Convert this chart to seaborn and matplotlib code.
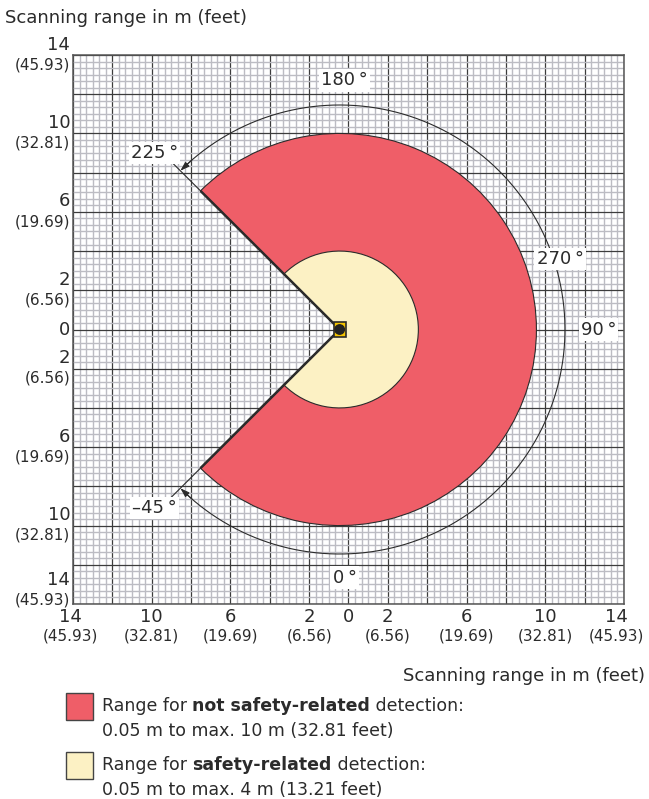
import numpy as np
import seaborn as sns
import matplotlib.pyplot as plt
from matplotlib.patches import Wedge, Rectangle, Circle
from matplotlib.transforms import blended_transform_factory

# detection fields (m), device angles: 0 deg points down, 90 deg points right
range_max = [10, 4]
range_colors = ['#ef5e68', '#fcf1c4']
scan_start = -45
scan_end = 225
sensor_x = -0.45

# axis ticks in m and the feet shown below them
tick_m = [-14, -10, -6, -2, 0, 2, 6, 10, 14]
tick_ft = ['45.93', '32.81', '19.69', '6.56', '', '6.56', '19.69', '32.81', '45.93']

angle_labels = ['180°', '270°', '90°', '0°', '225°', '–45°']

legend_lines = [
    [('Range for ', 'normal'), ('not safety-related', 'bold'), (' detection:', 'normal')],
    [('0.05 m to max. 10 m (32.81 feet)', 'normal')],
    [('Range for ', 'normal'), ('safety-related', 'bold'), (' detection:', 'normal')],
    [('0.05 m to max. 4 m (13.21 feet)', 'normal')],
]

sns.set_style('white')
plt.rcParams['font.family'] = ['DejaVu Sans']
ink = '#2b2b2b'

W, H = 649, 799
fig = plt.figure(figsize=(W / 100, H / 100), dpi=100)
ax = fig.add_axes([73 / W, 1 - 604 / H, 551 / W, 549 / H])
ax.set_xlim(-14, 14)
ax.set_ylim(-14, 14)

# graph paper
minor = np.arange(-14, 14.001, 1 / 3)
major = np.arange(-14, 14.001, 2)
ax.set_xticks(major)
ax.set_yticks(major)
ax.set_xticks(minor, minor=True)
ax.set_yticks(minor, minor=True)
ax.set_xticklabels([])
ax.set_yticklabels([])
ax.tick_params(which='both', length=0)
ax.grid(which='minor', color='#bcbcc3', lw=1.0)
ax.grid(which='major', color='#3c3c3c', lw=0.9)
ax.set_axisbelow(True)
for s in ax.spines.values():
    s.set_color('#555555')
    s.set_linewidth(1.1)

# detection fields
t1, t2 = scan_start - 90, scan_end - 90
for r, c in zip(range_max, range_colors):
    ax.add_patch(Wedge((sensor_x, 0), r, t1, t2, facecolor=c, edgecolor=ink, lw=0.8, zorder=3))
for a in (t1, t2):
    rad = np.deg2rad(a)
    ax.plot([sensor_x, sensor_x + range_max[0] * np.cos(rad)], [0, range_max[0] * np.sin(rad)],
            color=ink, lw=1.8, zorder=4, solid_capstyle='butt')
    # extension line for the dimension arc
    ax.plot([sensor_x + range_max[0] * np.cos(rad), sensor_x + 12.3 * np.cos(rad)],
            [range_max[0] * np.sin(rad), 12.3 * np.sin(rad)], color=ink, lw=0.8, zorder=4)

# dimension arc with arrows
ra = 11.45
th = np.deg2rad(np.linspace(t1 + 1.5, t2 - 1.5, 300))
sns.lineplot(x=sensor_x + ra * np.cos(th), y=ra * np.sin(th), sort=False, estimator=None,
             ax=ax, color=ink, lw=0.8, zorder=4)
for a, b in ((t1, t1 + 4), (t2, t2 - 4)):
    ax.annotate('', xy=(sensor_x + ra * np.cos(np.deg2rad(a)), ra * np.sin(np.deg2rad(a))),
                xytext=(sensor_x + ra * np.cos(np.deg2rad(b)), ra * np.sin(np.deg2rad(b))),
                arrowprops=dict(arrowstyle='-|>,head_length=0.55,head_width=0.18',
                                color=ink, lw=0.8, shrinkA=0, shrinkB=0), zorder=4)

# sensor
ax.add_patch(Rectangle((sensor_x - 0.3, -0.36), 0.6, 0.72, facecolor='#f3c300',
                       edgecolor=ink, lw=1.2, zorder=6))
ax.add_patch(Circle((sensor_x, 0), 0.24, color='#222222', zorder=7))

# angle labels
pos = [(-0.2, 12.7), (10.75, 3.6), (12.7, 0.0), (-0.2, -12.65), (-9.85, 9.0), (-9.85, -9.1)]
for lab, (x, y) in zip(angle_labels, pos):
    ax.text(x, y, lab.replace('°', '\u2009°'), fontsize=13, color=ink, ha='center', va='center',
            zorder=8, bbox=dict(facecolor='white', edgecolor='none', pad=1.5))
ax.plot([15.85], [0], marker='>', color='#9a9a9a', ms=13, clip_on=False)

# tick labels, m above and feet below
ty = blended_transform_factory(ax.transAxes, ax.transData)
tx = blended_transform_factory(ax.transData, ax.transAxes)
for v, ft in zip(tick_m, tick_ft):
    num = str(abs(v))
    if ft == '':
        ax.annotate(num, xy=(0, v), xycoords=ty, xytext=(-2, 0), textcoords='offset points',
                    ha='right', va='center', fontsize=13, color=ink)
    else:
        dy = 10 if v == -14 else 0
        ax.annotate(num, xy=(0, v), xycoords=ty, xytext=(-2, 7.5 + dy), textcoords='offset points',
                    ha='right', va='center', fontsize=13, color=ink)
        ax.annotate('(' + ft + ')', xy=(0, v), xycoords=ty, xytext=(-2, -7 + dy),
                    textcoords='offset points', ha='right', va='center', fontsize=11, color=ink)
    dx = -5.5 if v == 14 else (-1.5 if v == -14 else 0)
    ax.annotate(num, xy=(v, 0), xycoords=tx, xytext=(dx, -9.5), textcoords='offset points',
                ha='center', va='center', fontsize=13, color=ink)
    if ft:
        ax.annotate('(' + ft + ')', xy=(v, 0), xycoords=tx, xytext=(dx, -23), textcoords='offset points',
                    ha='center', va='center', fontsize=11, color=ink)

fig.text(5 / W, 1 - 18 / H, 'Scanning range in m (feet)', fontsize=13, color=ink, va='center')
fig.text(645 / W, 1 - 676 / H, 'Scanning range in m (feet)', fontsize=13, color=ink,
         va='center', ha='right')

# legend
for (y0, c) in zip([693, 752], range_colors):
    fig.add_artist(Rectangle((66 / W, 1 - (y0 + 27) / H), 27 / W, 27 / H, transform=fig.transFigure,
                             facecolor=c, edgecolor='#444444', lw=1.0))
renderer = fig.canvas.get_renderer()
for parts, yb in zip(legend_lines, [711, 736, 770, 795]):
    x = 102 / W
    for txt, wt in parts:
        t = fig.text(x, 1 - yb / H, txt, fontsize=12.5, fontweight=wt, color=ink, va='baseline')
        x += t.get_window_extent(renderer).width / fig.bbox.width

fig.savefig('out.png', dpi=100)
